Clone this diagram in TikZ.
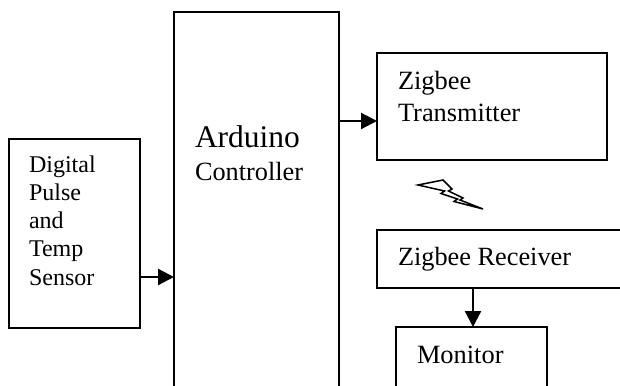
\documentclass[tikz,border=0pt]{standalone}
\usepackage{fontspec}
\setmainfont{Liberation Serif}
\usetikzlibrary{arrows.meta}
\tikzset{
  box/.style={draw=black, line width=1.6pt, inner sep=0pt, outer sep=0pt, anchor=north west},
  lbl/.style={inner sep=0pt, outer sep=0pt, anchor=base west, text=black},
  arr/.style={line width=2.2pt, -{Triangle[length=16pt,width=16pt]}},
}
\begin{document}
\begin{tikzpicture}[x=1pt,y=-1pt]
\useasboundingbox[fill=white] (0,0) rectangle (620,385);
\clip (0,0) rectangle (620,385);
% boxes
\node[box, minimum width=131pt, minimum height=189pt] (sensor) at (9,139) {};
\node[box, minimum width=165pt, minimum height=400pt] (arduino) at (174,12) {};
\node[box, minimum width=230pt, minimum height=107pt] (tx) at (377,53) {};
\node[box, minimum width=260pt, minimum height=58pt] (rx) at (377,230) {};
\node[box, minimum width=151pt, minimum height=100pt] (mon) at (396,327) {};
% texts
\node[lbl] (tsensor) at (29,172) {\fontsize{24}{28.25}\selectfont\begin{tabular}[t]{@{}l@{}}Digital\\Pulse\\and\\Temp\\Sensor\end{tabular}};
\node[lbl] (tard1) at (195,147.3) {\fontsize{31.5}{36}\selectfont Arduino};
\node[lbl] (tard2) at (195,180) {\fontsize{26.3}{30}\selectfont Controller};
\node[lbl] (ttx) at (398,89.3) {\fontsize{26.4}{32}\selectfont\begin{tabular}[t]{@{}l@{}}Zigbee\\Transmitter\end{tabular}};
\node[lbl] (trx) at (398,265) {\fontsize{26.3}{30}\selectfont Zigbee Receiver};
\node[lbl] (tmon) at (417,363) {\fontsize{26.4}{30}\selectfont Monitor};
% connectors
\coordinate (s1) at (140,277);
\draw[arr] (s1) -- (s1 -| arduino.west);
\coordinate (a1) at (339,121);
\draw[arr] (a1) -- (a1 -| tx.west);
\coordinate (r1) at (473,288);
\draw[arr] (r1) -- (r1 |- mon.north);
% lightning bolt
\draw[line width=1.5pt, line join=miter, fill=white]
  (418,185) -- (443,180) -- (452,189) -- (448.5,191) -- (463,198) -- (460,200) -- (483,209)
  -- (454,201.5) -- (457.5,199) -- (441,193.5) -- (444.5,191) -- cycle;
\end{tikzpicture}
\end{document}
